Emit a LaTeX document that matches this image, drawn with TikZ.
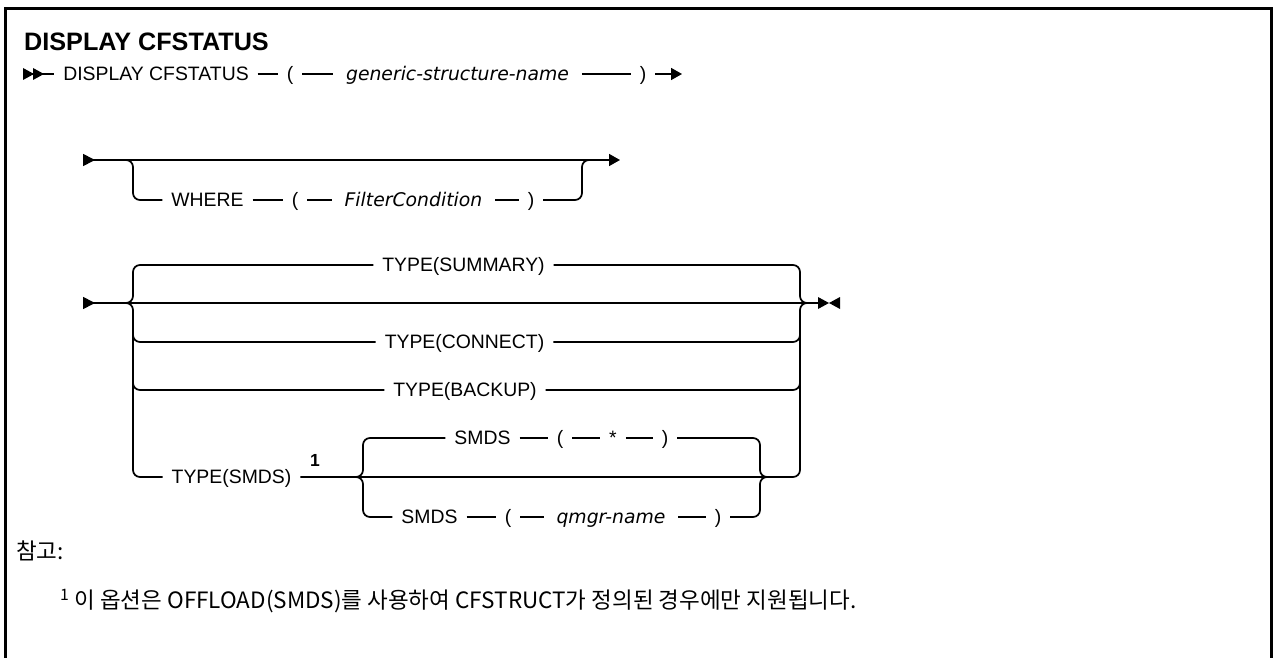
\documentclass[tikz,border=0pt]{standalone}
\usepackage{fontspec}
\setmainfont{Liberation Sans}
\newfontfamily\varfont{DejaVu Sans}
\newfontfamily\kofont{Noto Sans CJK KR}
\usetikzlibrary{arrows.meta}

\newcommand\railfont{\fontsize{19.4}{23}\selectfont}

\tikzset{
  railtip/.tip={Triangle[length=11pt,width=12pt]},
  railback/.tip={Triangle[reversed,length=12pt,width=12pt]},
}

\begin{document}
\begin{tikzpicture}[x=1pt, y=-1pt,
    rail/.style={line width=1.7pt, rounded corners=7pt},
    tok/.style={inner sep=0pt, outer xsep=9pt, text height=13.9pt, text depth=0pt, font=\railfont},
    var/.style={tok, outer xsep=13pt, font=\varfont\itshape\fontsize{18.8}{23}\selectfont},
    note/.style={anchor=west, inner sep=0pt, font=\kofont\fontsize{22.5}{26}\selectfont}
]
\path[use as bounding box] (0,0) rectangle (1274,658);

% frame
\draw[line width=3pt] (5.5,658) -- (5.5,8.5) -- (1271.5,8.5) -- (1271.5,658);

% title
\node[anchor=base west, inner sep=0pt, font=\fontsize{25.2}{29}\selectfont\bfseries] (title) at (24,51) {DISPLAY CFSTATUS};

% row 1
\coordinate (r1a) at (23,74);
\coordinate (r1e) at (682,74);
\node[tok] (dcmd) at (156,74) {DISPLAY CFSTATUS};
\node[tok] (lp1) at (290,74) {(};
\node[var] (gsn) at (457.5,74) {generic-structure-name};
\node[tok] (rp1) at (643,74) {)};
\fill (23,68) -- (34,74) -- (23,80) -- cycle;
\fill (33,68) -- (44,74) -- (33,80) -- cycle;
\draw[rail] (r1a) -- (dcmd);
\draw[rail] (dcmd) -- (lp1) (lp1) -- (gsn) (gsn) -- (rp1);
\draw[rail, -railtip] (rp1) -- (r1e);

% row 2: optional WHERE
\coordinate (r2a) at (83,160);
\coordinate (r2e) at (620,160);
\coordinate (r2j) at (125,160);
\coordinate (r2k) at (590,160);
\node[tok] (where) at (207.5,200) {WHERE};
\node[tok] (lp2) at (295,200) {(};
\node[var] (flt) at (413.5,200) {FilterCondition};
\node[tok] (rp2) at (531,200) {)};
\draw[rail, railback-railtip] (r2a) -- (r2e);
\draw[rail] (r2j) -- (133,160) -- (133,200) -- (where);
\draw[rail] (where) -- (lp2) (lp2) -- (flt) (flt) -- (rp2);
\draw[rail] (rp2) -- (582,200) -- (582,160) -- (r2k);

% row 3: TYPE
\coordinate (r3a) at (83,303);
\coordinate (r3e) at (818,303);
\coordinate (r3j) at (125,303);
\coordinate (r3k) at (810,303);
\node[tok] (tsum) at (463.5,265) {TYPE(SUMMARY)};
\node[tok] (tcon) at (464.5,342) {TYPE(CONNECT)};
\node[tok] (tbak) at (465,390) {TYPE(BACKUP)};
\node[tok] (tsmd) at (231.5,477) {TYPE(SMDS)};
\node[inner sep=0pt, font=\fontsize{17.5}{20}\selectfont\bfseries] (fn1) at (315,460) {1};
\draw[rail, railback-] (r3a) -- (r3e);
\fill (818,297) -- (829,303) -- (818,309) -- cycle;
\fill (840,297) -- (829,303) -- (840,309) -- cycle;
\draw[rail] (r3j) -- (133,303) -- (133,265) -- (tsum);
\draw[rail] (r3j) -- (133,303) -- (133,477) -- (tsmd);
\draw[rail] (133,330) -- (133,342) -- (tcon);
\draw[rail] (133,378) -- (133,390) -- (tbak);
\draw[rail] (tsum) -- (800,265) -- (800,303) -- (r3k);
\draw[rail] (tcon) -- (800,342) -- (800,303) -- (r3k);
\draw[rail] (tbak) -- (800,390) -- (800,378);
\draw[rail] (tsmd) -- (800,477) -- (800,330);

% SMDS choice
\coordinate (ij) at (355,477);
\coordinate (ik) at (768,477);
\node[tok] (smA) at (482.5,438) {SMDS};
\node[tok] (lpA) at (560,438) {(};
\node[tok] (stA) at (613,438) {*};
\node[tok] (rpA) at (665,438) {)};
\node[tok] (smB) at (429.5,517) {SMDS};
\node[tok] (lpB) at (508,517) {(};
\node[var] (qmB) at (611,517) {qmgr-name};
\node[tok] (rpB) at (718,517) {)};
\draw[rail] (ij) -- (363,477) -- (363,438) -- (smA);
\draw[rail] (ij) -- (363,477) -- (363,517) -- (smB);
\draw[rail] (smA) -- (lpA) (lpA) -- (stA) (stA) -- (rpA);
\draw[rail] (smB) -- (lpB) (lpB) -- (qmB) (qmB) -- (rpB);
\draw[rail] (rpA) -- (760,438) -- (760,477) -- (ik);
\draw[rail] (rpB) -- (760,517) -- (760,477) -- (ik);

% notes
\node[note] (hdr) at (16,551) {참고:};
\node[note] (fnote) at (60,601) {\textsuperscript{1} 이 옵션은 OFFLOAD(SMDS)를 사용하여 CFSTRUCT가 정의된 경우에만 지원됩니다.};

\end{tikzpicture}
\end{document}
